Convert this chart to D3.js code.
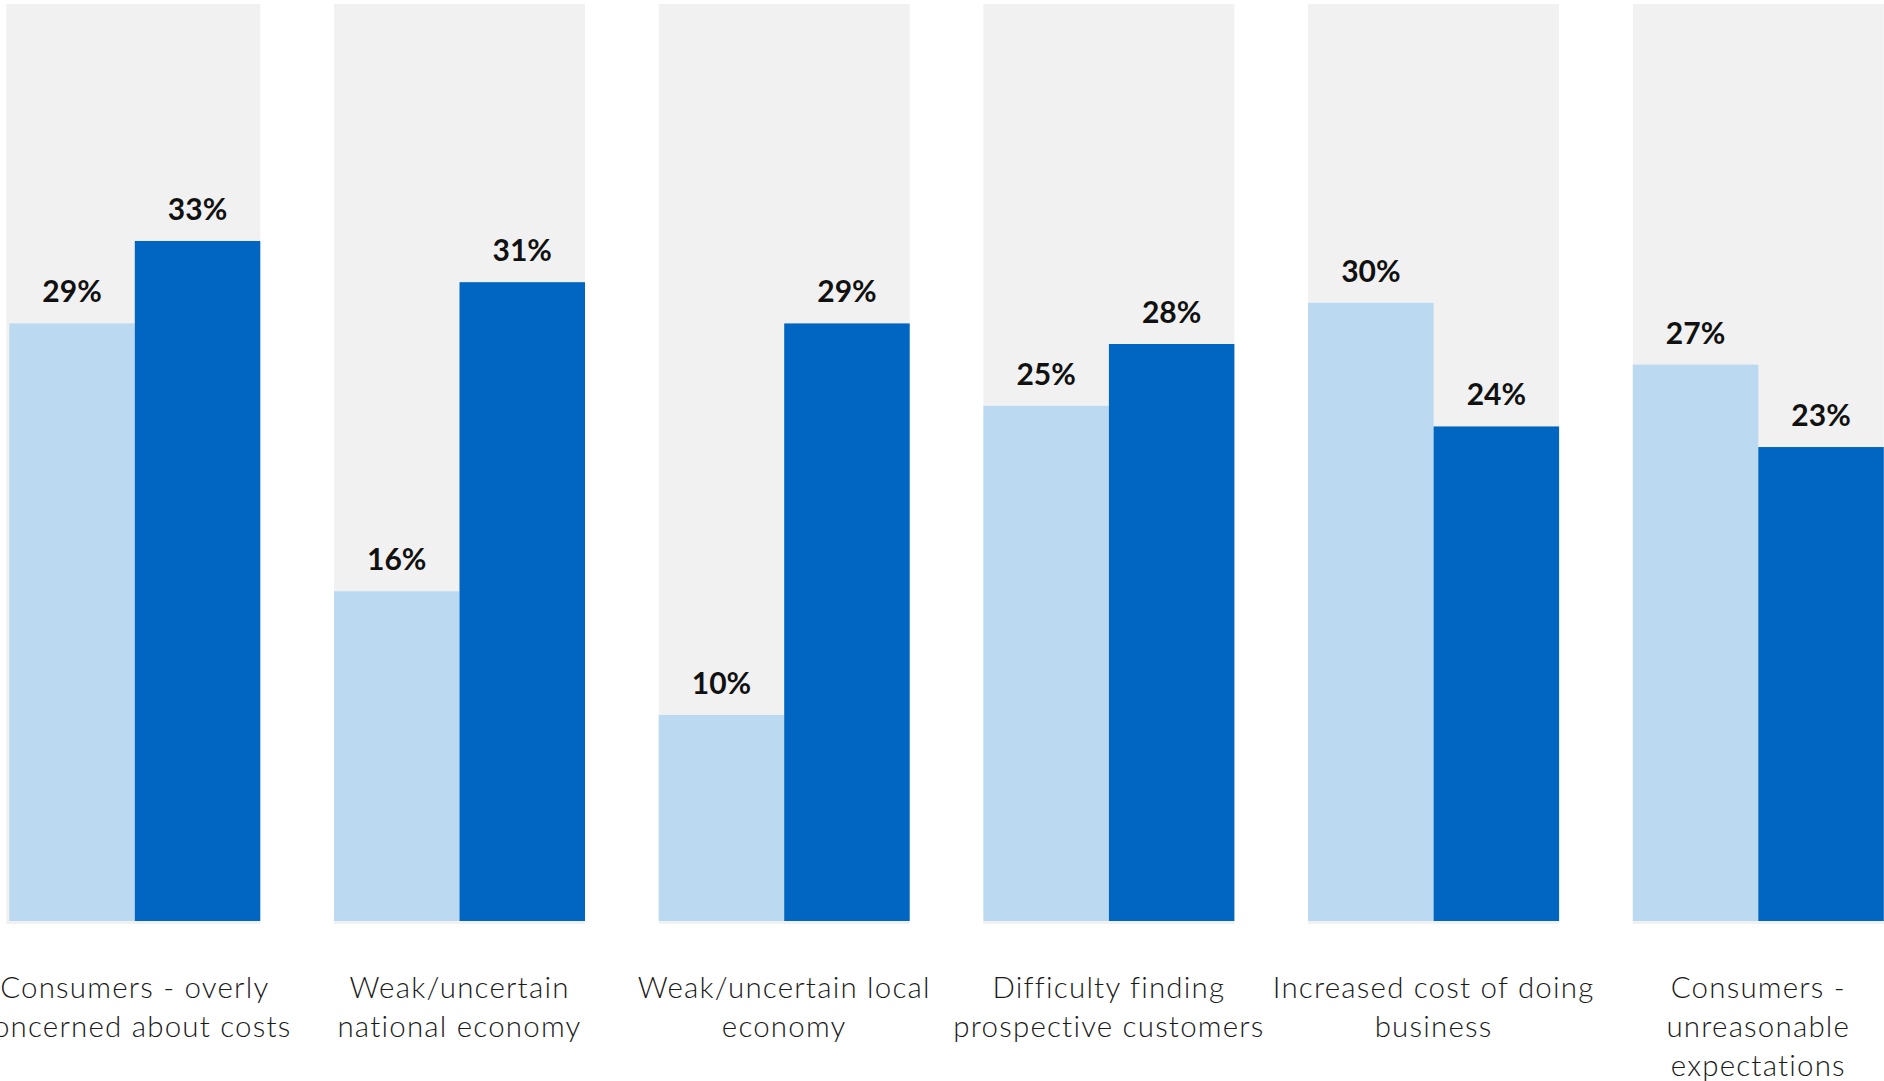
<!DOCTYPE html>
<html>
<head>
<meta charset="utf-8">
<script src="https://cdn.jsdelivr.net/npm/d3@7"></script>
<style>
  html, body { margin: 0; padding: 0; background: #ffffff; }
  svg { display: block; }
</style>
</head>
<body>
<svg id="chart" width="1884" height="1081"></svg>
<script>
// Category labels, one entry per group, already split into display lines
const categories = [
  "Consumers - overly concerned about costs",
  "Weak/uncertain national economy",
  "Weak/uncertain local economy",
  "Difficulty finding prospective customers",
  "Increased cost of doing business",
  "Consumers - unreasonable expectations"
];
const categoryLines = [
  ["Consumers - overly", "concerned about costs"],
  ["Weak/uncertain", "national economy"],
  ["Weak/uncertain local", "economy"],
  ["Difficulty finding", "prospective customers"],
  ["Increased cost of doing", "business"],
  ["Consumers -", "unreasonable", "expectations"]
];

// Two series (percent of respondents)
const seriesKeys = ["earlier", "later"];
const earlierValues = [29, 16, 10, 25, 30, 27];
const laterValues   = [33, 31, 29, 28, 24, 23];

// Upper end of the value axis (top of the grey backdrop panels)
const valueMax = 44.5;

const data = categories.map((c, i) => ({
  category: c,
  lines: categoryLines[i],
  values: [
    { key: "earlier", value: earlierValues[i] },
    { key: "later",   value: laterValues[i] }
  ]
}));

const svg = d3.select("#chart");

const plotTop = 4, plotBottom = 921;

const x0 = d3.scaleBand()
  .domain(categories)
  .range([9.3, 1883.8])
  .paddingInner(0.227)
  .paddingOuter(0);

const x1 = d3.scaleBand()
  .domain(seriesKeys)
  .range([0, x0.bandwidth()])
  .padding(0);

const y = d3.scaleLinear()
  .domain([0, valueMax])
  .range([plotBottom, plotTop]);

const color = d3.scaleOrdinal()
  .domain(seriesKeys)
  .range(["#bbdaf2", "#0066c2"]);

const groups = svg.append("g")
  .selectAll("g.group")
  .data(data)
  .join("g")
  .attr("class", "group")
  .attr("transform", d => `translate(${x0(d.category)},0)`);

// grey backdrop panel behind each pair of bars
groups.append("rect")
  .attr("x", (d, i) => i === 0 ? -3 : 0)
  .attr("y", y(valueMax))
  .attr("width", (d, i) => x0.bandwidth() + (i === 0 ? 3 : 0))
  .attr("height", y(0) - y(valueMax) + 3)
  .attr("fill", "#f1f1f1");

// bars
groups.selectAll("rect.bar")
  .data(d => d.values)
  .join("rect")
  .attr("class", "bar")
  .attr("x", d => x1(d.key))
  .attr("y", d => y(d.value))
  .attr("width", x1.bandwidth())
  .attr("height", d => y(0) - y(d.value))
  .attr("fill", d => color(d.key));

// value labels above bars
groups.selectAll("text.value")
  .data(d => d.values)
  .join("text")
  .attr("class", "value")
  .attr("x", d => x1(d.key) + x1.bandwidth() / 2)
  .attr("y", d => y(d.value) - 21)
  .attr("text-anchor", "middle")
  .attr("font-family", "Lato, 'Open Sans', sans-serif")
  .attr("font-weight", 700)
  .attr("font-size", 30)
  .attr("fill", "#111111")
  .text(d => `${d.value}%`);

// category labels below the groups
const catLabels = groups.append("text")
  .attr("class", "category")
  .attr("text-anchor", "middle")
  .attr("font-family", "Lato, 'Open Sans', sans-serif")
  .attr("font-weight", 300)
  .attr("font-size", 29.5)
  .attr("letter-spacing", "1.2px")
  .attr("fill", "#1a1a1a");

catLabels.selectAll("tspan")
  .data(d => d.lines)
  .join("tspan")
  .attr("x", x0.bandwidth() / 2)
  .attr("y", (d, i) => 998 + i * 39)
  .text(d => d);
</script>
</body>
</html>
